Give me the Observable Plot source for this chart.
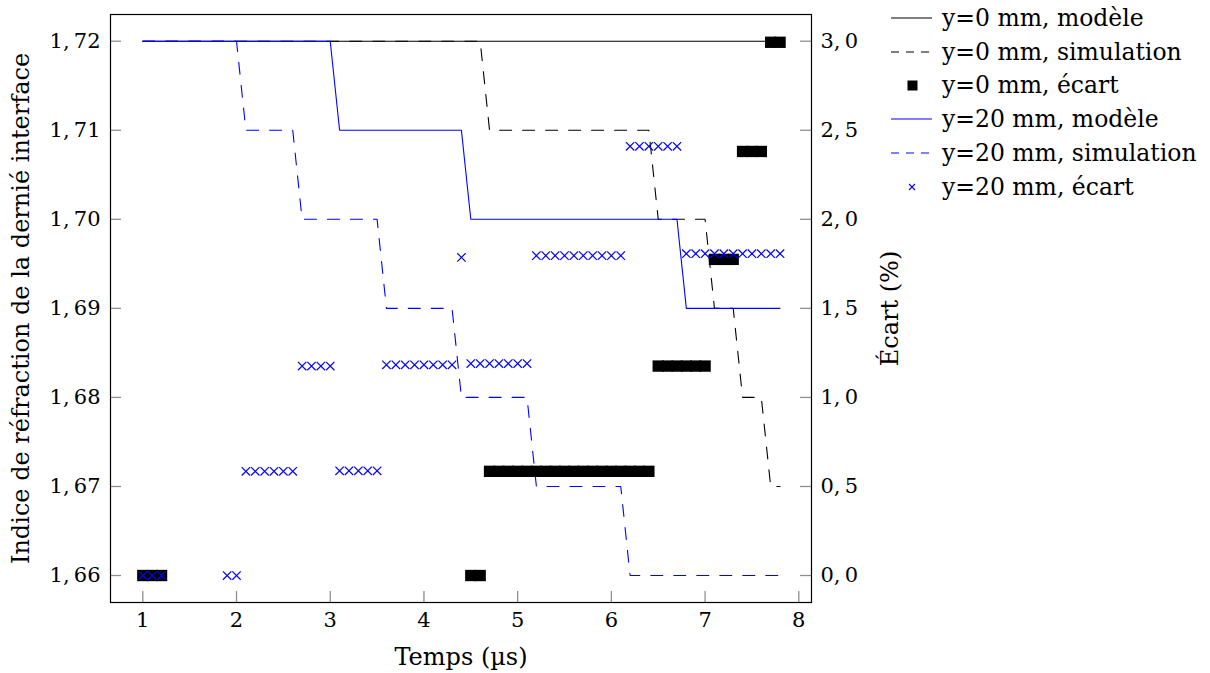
<!DOCTYPE html>
<html><head><meta charset="utf-8">
<script src="https://cdn.jsdelivr.net/npm/d3@7"></script>
<script src="https://cdn.jsdelivr.net/npm/@observablehq/plot@0.6"></script>
<style>
body{margin:0;background:#fff;font-family:"DejaVu Serif",serif;}
#wrap{position:relative;width:1210px;height:673px;}
#legend{position:absolute;left:890px;top:0;width:320px;height:210px;}
.row{position:absolute;left:0;height:34px;display:flex;align-items:center;white-space:nowrap;font-size:23.5px;color:#000;}
.row svg{flex:none;margin-right:9px;}
</style></head><body>
<div id="wrap"><div id="chart"></div><div id="legend"></div></div>
<script>
// ---- data (Temps en µs) ----
const times = [
 1.0,1.1,1.2,1.3,1.4,1.5,1.6,1.7,1.8,1.9,
 2.0,2.1,2.2,2.3,2.4,2.5,2.6,2.7,2.8,2.9,
 3.0,3.1,3.2,3.3,3.4,3.5,3.6,3.7,3.8,3.9,
 4.0,4.1,4.2,4.3,4.4,4.5,4.6,4.7,4.8,4.9,
 5.0,5.1,5.2,5.3,5.4,5.5,5.6,5.7,5.8,5.9,
 6.0,6.1,6.2,6.3,6.4,6.5,6.6,6.7,6.8,6.9,
 7.0,7.1,7.2,7.3,7.4,7.5,7.6,7.7,7.8];
const y0Model = [
 1.72,1.72,1.72,1.72,1.72,1.72,1.72,1.72,1.72,1.72,
 1.72,1.72,1.72,1.72,1.72,1.72,1.72,1.72,1.72,1.72,
 1.72,1.72,1.72,1.72,1.72,1.72,1.72,1.72,1.72,1.72,
 1.72,1.72,1.72,1.72,1.72,1.72,1.72,1.72,1.72,1.72,
 1.72,1.72,1.72,1.72,1.72,1.72,1.72,1.72,1.72,1.72,
 1.72,1.72,1.72,1.72,1.72,1.72,1.72,1.72,1.72,1.72,
 1.72,1.72,1.72,1.72,1.72,1.72,1.72,1.72,1.72];
const y0Sim = [
 1.72,1.72,1.72,1.72,1.72,1.72,1.72,1.72,1.72,1.72,
 1.72,1.72,1.72,1.72,1.72,1.72,1.72,1.72,1.72,1.72,
 1.72,1.72,1.72,1.72,1.72,1.72,1.72,1.72,1.72,1.72,
 1.72,1.72,1.72,1.72,1.72,1.72,1.72,1.71,1.71,1.71,
 1.71,1.71,1.71,1.71,1.71,1.71,1.71,1.71,1.71,1.71,
 1.71,1.71,1.71,1.71,1.71,1.70,1.70,1.70,1.70,1.70,
 1.70,1.69,1.69,1.69,1.68,1.68,1.68,1.67,1.67];
const y20Model = [
 1.72,1.72,1.72,1.72,1.72,1.72,1.72,1.72,1.72,1.72,
 1.72,1.72,1.72,1.72,1.72,1.72,1.72,1.72,1.72,1.72,
 1.72,1.71,1.71,1.71,1.71,1.71,1.71,1.71,1.71,1.71,
 1.71,1.71,1.71,1.71,1.71,1.70,1.70,1.70,1.70,1.70,
 1.70,1.70,1.70,1.70,1.70,1.70,1.70,1.70,1.70,1.70,
 1.70,1.70,1.70,1.70,1.70,1.70,1.70,1.70,1.69,1.69,
 1.69,1.69,1.69,1.69,1.69,1.69,1.69,1.69,1.69];
const y20Sim = [
 1.72,1.72,1.72,1.72,1.72,1.72,1.72,1.72,1.72,1.72,
 1.72,1.71,1.71,1.71,1.71,1.71,1.71,1.70,1.70,1.70,
 1.70,1.70,1.70,1.70,1.70,1.70,1.69,1.69,1.69,1.69,
 1.69,1.69,1.69,1.69,1.68,1.68,1.68,1.68,1.68,1.68,
 1.68,1.68,1.67,1.67,1.67,1.67,1.67,1.67,1.67,1.67,
 1.67,1.67,1.66,1.66,1.66,1.66,1.66,1.66,1.66,1.66,
 1.66,1.66,1.66,1.66,1.66,1.66,1.66,1.66,1.66];
// Écart (%) — right axis
const ecart0Times = [
 1.0,1.1,1.2, 4.5,4.6,
 4.7,4.8,4.9,5.0,5.1,5.2,5.3,5.4,5.5,5.6,5.7,5.8,5.9,6.0,6.1,6.2,6.3,6.4,
 6.5,6.6,6.7,6.8,6.9,7.0,
 7.1,7.2,7.3, 7.4,7.5,7.6, 7.7,7.8];
const ecart0Values = [
 0,0,0, 0,0,
 0.585,0.585,0.585,0.585,0.585,0.585,0.585,0.585,0.585,0.585,0.585,0.585,0.585,0.585,0.585,0.585,0.585,0.585,
 1.176,1.176,1.176,1.176,1.176,1.176,
 1.775,1.775,1.775, 2.381,2.381,2.381, 2.994,2.994];
const ecart20Times = [
 1.0,1.1,1.2, 1.9,2.0,
 2.1,2.2,2.3,2.4,2.5,2.6,
 2.7,2.8,2.9,3.0,
 3.1,3.2,3.3,3.4,3.5,
 3.6,3.7,3.8,3.9,4.0,4.1,4.2,4.3,
 4.4,
 4.5,4.6,4.7,4.8,4.9,5.0,5.1,
 5.2,5.3,5.4,5.5,5.6,5.7,5.8,5.9,6.0,6.1,
 6.2,6.3,6.4,6.5,6.6,6.7,
 6.8,6.9,7.0,7.1,7.2,7.3,7.4,7.5,7.6,7.7,7.8];
const ecart20Values = [
 0,0,0, 0,0,
 0.585,0.585,0.585,0.585,0.585,0.585,
 1.176,1.176,1.176,1.176,
 0.588,0.588,0.588,0.588,0.588,
 1.183,1.183,1.183,1.183,1.183,1.183,1.183,1.183,
 1.786,
 1.19,1.19,1.19,1.19,1.19,1.19,1.19,
 1.796,1.796,1.796,1.796,1.796,1.796,1.796,1.796,1.796,1.796,
 2.41,2.41,2.41,2.41,2.41,2.41,
 1.807,1.807,1.807,1.807,1.807,1.807,1.807,1.807,1.807,1.807,1.807];
const xTicks = [1,2,3,4,5,6,7,8];
const yTicks = [1.66,1.67,1.68,1.69,1.70,1.71,1.72];
const ecartTicks = [0,0.5,1.0,1.5,2.0,2.5,3.0];
// right axis: 0 % ↔ 1,66 ; 3 % ↔ 1,72
const ecartBase = 1.66, ecartPerUnit = 0.02;

// ---- tables ----
const toY = e => ecartBase + e * ecartPerUnit;
const lines = times.map((t, i) => ({t, y0m: y0Model[i], y0s: y0Sim[i], y20m: y20Model[i], y20s: y20Sim[i]}));
const e0 = ecart0Times.map((t, i) => ({t, y: toY(ecart0Values[i])}));
const e20 = ecart20Times.map((t, i) => ({t, y: toY(ecart20Values[i])}));
const comma = (v, d) => v.toFixed(d).replace(".", ",\u2009");

const W = 1210, H = 673, mL = 110, mR = 399, mT = 14, mB = 71;
const plotW = W - mL - mR, plotH = H - mT - mB;
const tickLen = 11, tickColor = "#8f8f8f";
const dash = "12,11";
const labelSize = 24;

const chart = Plot.plot({
  width: W, height: H,
  marginLeft: mL, marginRight: mR, marginTop: mT, marginBottom: mB,
  style: {fontFamily: "DejaVu Serif, serif", fontSize: "21px", background: "#fff", color: "#000", overflow: "visible"},
  x: {domain: [0.6553, 8.1355]},
  y: {domain: [1.65697, 1.72300]},
  marks: [
    Plot.axisX(xTicks, {anchor: "bottom", tickSize: 0, tickPadding: 10, tickFormat: d => String(d), fontSize: 21, label: null}),
    Plot.axisX({anchor: "bottom", ticks: [], label: "Temps (µs)", labelAnchor: "center", labelArrow: "none", labelOffset: 62, fontSize: labelSize}),
    Plot.axisY(yTicks, {anchor: "left", tickSize: 0, tickPadding: 10, tickFormat: d => comma(d, 2), fontSize: 21, label: null}),
    Plot.axisY({anchor: "left", ticks: [], label: "Indice de réfraction de la dernié interface", labelAnchor: "center", labelArrow: "none", labelOffset: 99, fontSize: labelSize}),
    Plot.axisY(ecartTicks.map(toY), {anchor: "right", tickSize: 0, tickPadding: 9, tickFormat: (d, i) => comma(ecartTicks[i], 1), fontSize: 21, label: null}),
    Plot.axisY({anchor: "right", ticks: [], label: "Écart (%)", labelAnchor: "center", labelArrow: "none", labelOffset: 86, fontSize: labelSize}),
    // inward ticks
    Plot.tickY(yTicks, {y: d => d, stroke: tickColor, strokeWidth: 1.3, insetRight: plotW - tickLen}),
    Plot.tickY(ecartTicks.map(toY), {y: d => d, stroke: tickColor, strokeWidth: 1.3, insetLeft: plotW - tickLen}),
    Plot.tickX(xTicks, {x: d => d, stroke: tickColor, strokeWidth: 1.3, insetTop: plotH - tickLen}),
    // lines
    Plot.line(lines, {x: "t", y: "y0m", stroke: "#000", strokeWidth: 1.1}),
    Plot.line(lines, {x: "t", y: "y0s", stroke: "#000", strokeWidth: 1.1, strokeDasharray: dash}),
    Plot.line(lines, {x: "t", y: "y20m", stroke: "#0000ff", strokeWidth: 1.1}),
    Plot.line(lines, {x: "t", y: "y20s", stroke: "#0000ff", strokeWidth: 1.1, strokeDasharray: dash}),
    // écart markers
    Plot.dot(e0, {x: "t", y: "y", symbol: "square", r: 6.4, fill: "#000", stroke: "none"}),
    Plot.dot(e20, {x: "t", y: "y", symbol: "times", r: 3.9, stroke: "#0000ff", strokeWidth: 1.2}),
    Plot.frame({stroke: "#000", strokeWidth: 1.2})
  ]
});
document.getElementById("chart").appendChild(chart);

// ---- legend ----
const legendItems = [
  {label: "y=0 mm, modèle", kind: "line", color: "#000", dash: null},
  {label: "y=0 mm, simulation", kind: "line", color: "#000", dash: "8,7"},
  {label: "y=0 mm, écart", kind: "square", color: "#000"},
  {label: "y=20 mm, modèle", kind: "line", color: "#0000ff", dash: null},
  {label: "y=20 mm, simulation", kind: "line", color: "#0000ff", dash: "8,7"},
  {label: "y=20 mm, écart", kind: "times", color: "#0000ff"}
];
const legendRowCenters = [18, 52, 85, 119, 153, 187];
const legend = document.getElementById("legend");
legendItems.forEach((it, i) => {
  const row = document.createElement("div");
  row.className = "row";
  row.style.top = (legendRowCenters[i] - 17) + "px";
  let g = "";
  if (it.kind === "line") g = `<line x1="1" y1="10" x2="42" y2="10" stroke="${it.color}" stroke-width="1.1" ${it.dash ? `stroke-dasharray="${it.dash}"` : ""}/>`;
  else if (it.kind === "square") g = `<rect x="17.5" y="5.5" width="10" height="10" fill="${it.color}"/>`;
  else g = `<path d="M19,7L25,13M19,13L25,7" stroke="${it.color}" stroke-width="1.1"/>`;
  row.innerHTML = `<svg width="43" height="20">${g}</svg><span>${it.label}</span>`;
  legend.appendChild(row);
});
</script>
</body></html>
